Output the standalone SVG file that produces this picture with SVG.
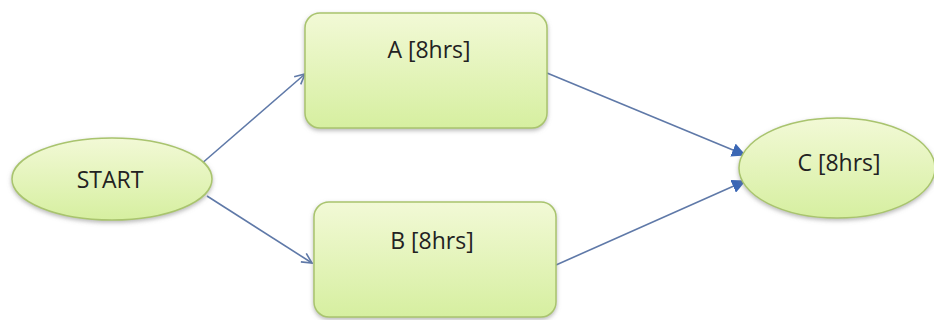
<svg xmlns="http://www.w3.org/2000/svg" width="934" height="320" viewBox="0 0 934 320">
  <style>
    .node { fill: url(#greenFill); stroke: #a9c46e; stroke-width: 1.5; filter: url(#shadow); }
    .label { font-family: "Open Sans", Lato, "Liberation Sans", sans-serif; font-size: 23px; fill: #222222; text-anchor: middle; }
    .edge { stroke: #5f79a8; stroke-width: 1.6; fill: none; }
  </style>
  <defs>
    <linearGradient id="greenFill" x1="0" y1="0" x2="0" y2="1">
      <stop offset="0" stop-color="#f2f9d6"/>
      <stop offset="1" stop-color="#d6efa0"/>
    </linearGradient>
    <filter id="shadow" x="-10%" y="-10%" width="120%" height="130%">
      <feDropShadow dx="0" dy="2" stdDeviation="2" flood-color="#808080" flood-opacity="0.55"/>
    </filter>
    <marker id="openHead" viewBox="0 0 12 12" refX="11" refY="6" markerWidth="12" markerHeight="12" markerUnits="userSpaceOnUse" orient="auto">
      <path d="M1,1 L11,6 L1,11" fill="none" stroke="#5f79a8" stroke-width="1.6"/>
    </marker>
    <marker id="solidHead" viewBox="0 0 14 14" refX="13" refY="7" markerWidth="14" markerHeight="14" markerUnits="userSpaceOnUse" orient="auto">
      <path d="M0,0 L14,7 L0,14 Z" fill="#3b67b5"/>
    </marker>
  </defs>

  <g id="connectors">
    <line class="edge" x1="200" y1="165" x2="305" y2="74" marker-end="url(#openHead)"/>
    <line class="edge" x1="207" y1="196" x2="312" y2="263" marker-end="url(#openHead)"/>
    <line class="edge" x1="547" y1="73" x2="745" y2="155" marker-end="url(#solidHead)"/>
    <line class="edge" x1="556" y1="265" x2="745" y2="181" marker-end="url(#solidHead)"/>
  </g>

  <g id="start">
    <ellipse class="node" cx="112" cy="179" rx="100" ry="41"/>
    <text class="label" x="110" y="188">START</text>
  </g>

  <g id="taskA">
    <rect class="node" x="305" y="13" width="242" height="115" rx="15" ry="15"/>
    <text class="label" x="429" y="58">A [8hrs]</text>
  </g>

  <g id="taskB">
    <rect class="node" x="314" y="202" width="242" height="115" rx="15" ry="15"/>
    <text class="label" x="432" y="249">B [8hrs]</text>
  </g>

  <g id="taskC">
    <ellipse class="node" cx="837" cy="168" rx="98" ry="50"/>
    <text class="label" x="839" y="171">C [8hrs]</text>
  </g>
</svg>
